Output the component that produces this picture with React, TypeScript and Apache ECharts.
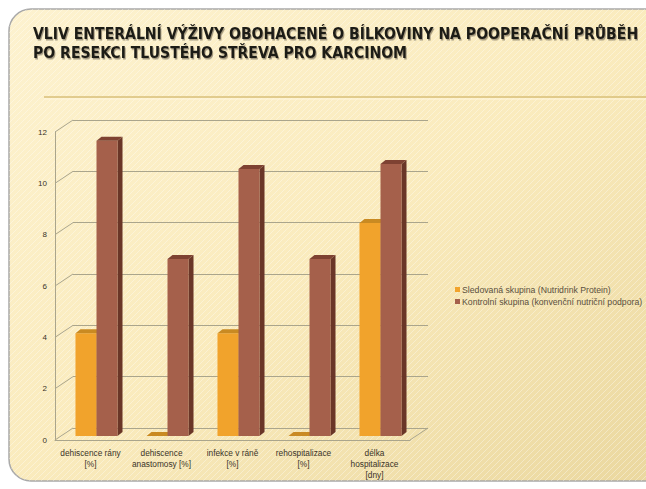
import React, { useEffect, useRef } from 'react';
import * as echarts from 'echarts';

const titleLines = [
  'VLIV ENTERÁLNÍ VÝŽIVY OBOHACENÉ O BÍLKOVINY NA POOPERAČNÍ PRŮBĚH',
  'PO RESEKCI TLUSTÉHO STŘEVA PRO KARCINOM',
];
const categories = [
  'dehiscence rány\n[%]',
  'dehiscence\nanastomosy [%]',
  'infekce v ráně\n[%]',
  'rehospitalizace\n[%]',
  'délka\nhospitalizace\n[dny]',
];
const seriesNames = [
  'Sledovaná skupina (Nutridrink Protein)',
  'Kontrolní skupina (konvenční nutriční podpora)',
];
const studyValues = [4, 0, 4, 0, 8.3];
const controlValues = [11.5, 6.9, 10.4, 6.9, 10.6];
const tickValues = [0, 2, 4, 6, 8, 10, 12];

const DEPTH_X = 18;
const DEPTH_Y = -12;
const GRID_COLOR = '#aaa58c';

const palettes = [
  { front: '#f1a32c', side: '#c47f1c', top: '#c98a22' },
  { front: '#a5604b', side: '#6a3627', top: '#7e4232' },
];

function makeBarRender(seriesIdx: number) {
  return (params: any, api: any) => {
    const i = api.value(0);
    const v = api.value(1);
    const base = api.coord([i, 0]);
    const top = api.coord([i, v]);
    const band = api.size([1, 0])[0];
    const bw = band * 0.296;
    const cx = base[0] + 6;
    const yb = base[1] - 4;
    const yt = top[1] - 4;
    const x0 = seriesIdx === 0 ? cx - bw : cx;
    const x1 = x0 + bw;
    const dx = 5;
    const dy = -4;
    const p = palettes[seriesIdx];
    return {
      type: 'group',
      children: [
        {
          type: 'polygon',
          shape: { points: [[x1, yt], [x1 + dx, yt + dy], [x1 + dx, yb + dy], [x1, yb]] },
          style: { fill: p.side },
        },
        {
          type: 'rect',
          shape: { x: x0, y: yt, width: bw, height: Math.max(yb - yt, 0) },
          style: { fill: p.front },
        },
        {
          type: 'polygon',
          shape: { points: [[x0, yt], [x0 + dx, yt + dy], [x1 + dx, yt + dy], [x1, yt]] },
          style: { fill: p.top },
        },
      ],
    };
  };
}

function makeStripes(): any {
  try {
    const c = document.createElement('canvas');
    c.width = 6;
    c.height = 6;
    const ctx = c.getContext('2d');
    if (!ctx) return null;
    ctx.strokeStyle = 'rgba(255,255,255,0.35)';
    ctx.lineWidth = 1;
    ctx.beginPath();
    ctx.moveTo(0, 6);
    ctx.lineTo(6, 0);
    ctx.moveTo(-1, 1);
    ctx.lineTo(1, -1);
    ctx.moveTo(5, 7);
    ctx.lineTo(7, 5);
    ctx.stroke();
    return { image: c, repeat: 'repeat' };
  } catch (e) {
    return null;
  }
}

export default function App() {
  const ref = useRef<HTMLDivElement>(null);
  useEffect(() => {
    if (!ref.current) return;
    const chart = echarts.init(ref.current, undefined, { renderer: 'svg' });
    const stripes = makeStripes();
    const frameShape = { x: 9, y: 9, width: 660, height: 472, r: 22 };
    const graphics: any[] = [
      {
        type: 'rect',
        z: -10,
        shape: frameShape,
        style: {
          fill: new echarts.graphic.LinearGradient(0, 0, 1, 1, [
            { offset: 0, color: '#fdf2cf' },
            { offset: 0.5, color: '#faebbd' },
            { offset: 1, color: '#ead79e' },
          ]),
          stroke: '#a9a9a9',
          lineWidth: 1.5,
        },
      },
    ];
    if (stripes) {
      graphics.push({
        type: 'rect',
        z: -9,
        silent: true,
        shape: frameShape,
        style: { fill: stripes, stroke: null },
      });
    }
    graphics.push(
      {
        type: 'line',
        z: -5,
        shape: { x1: 44, y1: 97, x2: 646, y2: 97 },
        style: { stroke: '#d9bf78', lineWidth: 1.5 },
      },
      {
        type: 'line',
        z: -5,
        shape: { x1: 44, y1: 99, x2: 646, y2: 99 },
        style: { stroke: '#fff6dc', lineWidth: 1 },
      },
      ...titleLines.map((t, k) => ({
        type: 'text',
        left: 33,
        top: 26 + k * 18.5,
        style: {
          text: t,
          fill: '#1e1c18',
          font: 'bold 15.6px "Liberation Sans Narrow", "DejaVu Sans Condensed", sans-serif',
          textShadowColor: 'rgba(90,80,60,0.55)',
          textShadowOffsetX: 1,
          textShadowOffsetY: 1.5,
          textShadowBlur: 1.5,
        },
      }))
    );
    const option: any = {
      animation: false,
      graphic: graphics,
      legend: {
        data: seriesNames,
        orient: 'vertical',
        left: 450,
        top: 280,
        itemWidth: 5,
        itemHeight: 5,
        itemGap: 3,
        icon: 'rect',
        textStyle: { fontSize: 8.7, color: '#5a5040', fontFamily: 'Liberation Sans, sans-serif', padding: [0, 0, 0, -3] },
      },
      grid: [
        { left: 73, top: 120, width: 355, height: 308 },
        { left: 55, top: 132, width: 355, height: 308 },
      ],
      xAxis: [
        { type: 'category', gridIndex: 0, data: categories, show: false },
        {
          type: 'category',
          gridIndex: 1,
          data: categories,
          axisLine: { show: true, lineStyle: { color: GRID_COLOR } },
          axisTick: { show: false },
          axisLabel: {
            margin: 7,
            fontSize: 8.3,
            lineHeight: 11,
            color: '#3a3328',
            fontFamily: 'Liberation Sans, sans-serif',
            interval: 0,
          },
        },
      ],
      yAxis: [
        {
          type: 'value',
          gridIndex: 0,
          min: 0,
          max: 12,
          interval: 2,
          axisLine: { show: false },
          axisTick: { show: false },
          axisLabel: { show: false },
          splitLine: { show: true, lineStyle: { color: GRID_COLOR, width: 1 } },
        },
        {
          type: 'value',
          gridIndex: 1,
          min: 0,
          max: 12,
          interval: 2,
          axisLine: { show: true, lineStyle: { color: GRID_COLOR } },
          axisTick: { show: false },
          axisLabel: {
            margin: 8,
            fontSize: 8,
            color: '#3a3328',
            fontFamily: 'Liberation Sans, sans-serif',
          },
          splitLine: { show: false },
        },
      ],
      series: [
        {
          type: 'custom',
          name: 'diagonals',
          xAxisIndex: 0,
          yAxisIndex: 0,
          silent: true,
          z: 1,
          data: tickValues.map((v) => [0, v]),
          renderItem: (params: any, api: any) => {
            const y = api.coord([0, api.value(1)])[1];
            const x = params.coordSys.x;
            return {
              type: 'line',
              shape: { x1: x, y1: y, x2: x - DEPTH_X, y2: y - DEPTH_Y },
              style: { stroke: GRID_COLOR, lineWidth: 1 },
            };
          },
        },
        {
          type: 'custom',
          name: 'floor',
          xAxisIndex: 1,
          yAxisIndex: 1,
          silent: true,
          z: 1,
          data: [[0, 0]],
          renderItem: (params: any, api: any) => {
            const cs = params.coordSys;
            const y = api.coord([0, 0])[1];
            const x = cs.x + cs.width;
            return {
              type: 'line',
              shape: { x1: x, y1: y, x2: x + DEPTH_X, y2: y + DEPTH_Y },
              style: { stroke: GRID_COLOR, lineWidth: 1 },
            };
          },
        },
        {
          type: 'custom',
          name: seriesNames[0],
          xAxisIndex: 1,
          yAxisIndex: 1,
          z: 3,
          itemStyle: { color: palettes[0].front },
          data: studyValues.map((v, i) => [i, v]),
          renderItem: makeBarRender(0),
        },
        {
          type: 'custom',
          name: seriesNames[1],
          xAxisIndex: 1,
          yAxisIndex: 1,
          z: 4,
          itemStyle: { color: palettes[1].front },
          data: controlValues.map((v, i) => [i, v]),
          renderItem: makeBarRender(1),
        },
      ],
    };
    chart.setOption(option);
    return () => chart.dispose();
  }, []);
  return (
    <div
      ref={ref}
      style={{ position: 'fixed', left: 0, top: 0, width: 646, height: 489, background: '#ffffff' }}
    />
  );
}
